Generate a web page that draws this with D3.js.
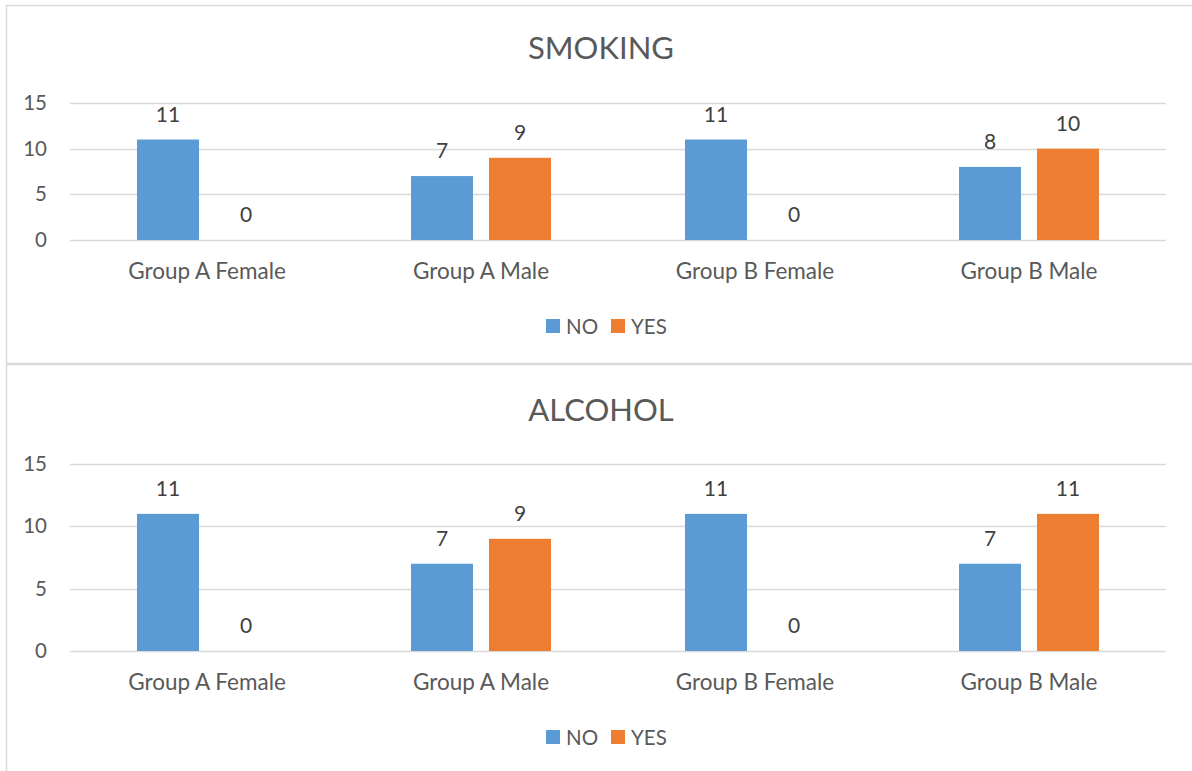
<!DOCTYPE html>
<html><head><meta charset="utf-8">
<script src="https://cdn.jsdelivr.net/npm/d3@7"></script>
<style>html,body{margin:0;padding:0;background:#fff;} svg{display:block;}</style>
</head><body>
<svg id="c" width="1192" height="771"></svg>
<script>
const categories = ["Group A Female", "Group A Male", "Group B Female", "Group B Male"];
const seriesNames = ["NO", "YES"];
const smokingNo = [11, 7, 11, 8];
const smokingYes = [0, 9, 0, 10];
const alcoholNo = [11, 7, 11, 7];
const alcoholYes = [0, 9, 0, 11];
const yTicks = [0, 5, 10, 15];
const colors = ["#5B9BD5", "#ED7D31"];

const svg = d3.select("#c");
const FONT = "Lato, 'Open Sans', sans-serif";
const textColor = "#595959";

function drawChart(cfg) {
  const g = svg.append("g");
  g.append("rect").attr("x", cfg.box[0] + 0.5).attr("y", cfg.box[1] + 0.5)
    .attr("width", cfg.box[2]).attr("height", cfg.box[3])
    .attr("fill", "none").attr("stroke", "#d9d9d9").attr("stroke-width", 1.5);

  const x0 = d3.scaleBand().domain(categories).range([70, 1166]).padding(0);
  const x1 = d3.scaleBand().domain(seriesNames).range([0, x0.bandwidth()])
    .paddingInner(0.205).paddingOuter(0.859);
  const y = d3.scaleLinear().domain([0, 15]).range([cfg.y0, cfg.y15]);

  g.append("text").attr("x", 601).attr("y", cfg.titleY).attr("text-anchor", "middle")
    .attr("font-family", FONT).attr("font-size", 31).attr("fill", textColor).text(cfg.title);

  g.selectAll("line.grid").data(yTicks).join("line")
    .attr("x1", 70).attr("x2", 1166)
    .attr("y1", d => Math.round(y(d)) + 0.5).attr("y2", d => Math.round(y(d)) + 0.5)
    .attr("stroke", "#d9d9d9").attr("stroke-width", 1.5);

  const yAxis = d3.axisLeft(y).tickValues(yTicks).tickSize(0).tickPadding(0);
  const ya = g.append("g").attr("transform", "translate(47,0)").call(yAxis);
  ya.select(".domain").remove();
  ya.selectAll("text").attr("font-family", FONT).attr("font-size", 20.5).attr("fill", textColor);

  const xAxis = d3.axisBottom(x0).tickSize(0).tickPadding(0);
  const xa = g.append("g").attr("transform", `translate(0,${cfg.y0 + 23.5})`).call(xAxis);
  xa.select(".domain").remove();
  xa.selectAll("text").attr("font-family", FONT).attr("font-size", 22.5).attr("fill", textColor);

  const rows = categories.map((c, i) => ({cat: c, vals: [cfg.no[i], cfg.yes[i]]}));
  const grp = g.selectAll("g.cat").data(rows).join("g")
    .attr("transform", d => `translate(${x0(d.cat)},0)`);
  grp.selectAll("rect").data(d => d.vals.map((v, k) => ({s: seriesNames[k], v, k}))).join("rect")
    .attr("x", d => x1(d.s)).attr("width", x1.bandwidth())
    .attr("y", d => y(d.v)).attr("height", d => y(0) - y(d.v))
    .attr("fill", d => colors[d.k]);
  grp.selectAll("text").data(d => d.vals.map((v, k) => ({s: seriesNames[k], v, k}))).join("text")
    .attr("x", d => x1(d.s) + x1.bandwidth() / 2).attr("y", d => y(d.v) - 18)
    .attr("text-anchor", "middle").attr("font-family", FONT).attr("font-size", 21)
    .attr("fill", "#404040").text(d => d.v);

  const lg = g.append("g").attr("transform", `translate(0,${cfg.legendY})`);
  const items = [{x: 546, tx: 566}, {x: 611, tx: 631}];
  seriesNames.forEach((s, k) => {
    lg.append("rect").attr("x", items[k].x).attr("y", -7).attr("width", 14).attr("height", 14).attr("fill", colors[k]);
    lg.append("text").attr("x", items[k].tx).attr("y", 7.5).attr("font-family", FONT).attr("font-size", 20.5)
      .attr("fill", textColor).text(s);
  });
}

drawChart({title: "SMOKING", no: smokingNo, yes: smokingYes, box: [6, 5, 1200, 358],
  y0: 240, y15: 103, titleY: 59, legendY: 326});
drawChart({title: "ALCOHOL", no: alcoholNo, yes: alcoholYes, box: [6, 364, 1200, 420],
  y0: 651, y15: 464, titleY: 421, legendY: 737});
</script>
</body></html>
